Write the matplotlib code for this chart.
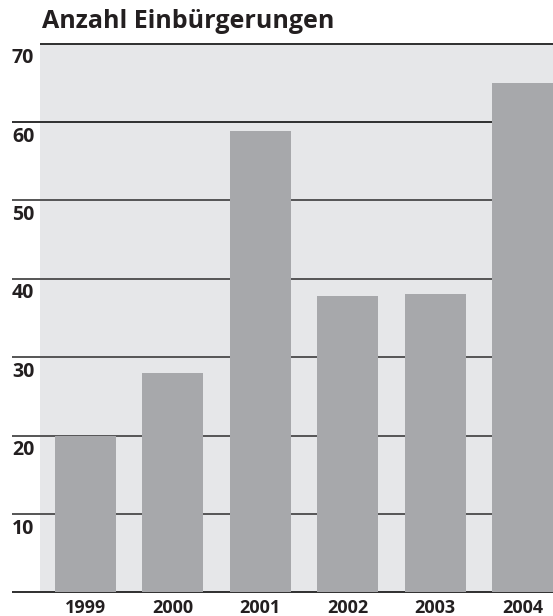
import matplotlib
matplotlib.use('Agg')
import matplotlib.pyplot as plt
import matplotlib.transforms as mtransforms

# Daten
years = ['1999', '2000', '2001', '2002', '2003', '2004']
counts = [20, 28, 58.8, 37.8, 38.0, 64.9]
yticks = [10, 20, 30, 40, 50, 60, 70]
title = 'Anzahl Einbürgerungen'

plt.rcParams['font.family'] = ['Open Sans', 'DejaVu Sans']

W, H = 553, 616
fig = plt.figure(figsize=(W / 100, H / 100), dpi=100)
ax = fig.add_axes([40 / W, (H - 592.3) / H, 513 / W, (592.3 - 43.5) / H])
ax.set_facecolor('#e6e7e9')
for s in ax.spines.values():
    s.set_visible(False)
ax.set_xticks([])
ax.set_yticks([])
ax.set_ylim(0, 70)
ax.set_xlim(-0.5206, 5.349)

x = list(range(len(years)))
ax.bar(x, counts, width=0.698, color='#a7a8ab', zorder=3)

# Gitterlinien (ragen links über die Achse hinaus)
trans = mtransforms.blended_transform_factory(ax.transAxes, ax.transData)
left = (12 - 40) / 513
for v in [0] + yticks:
    x0 = 0 if v == 70 else left
    col = '#2f2f2f' if v in (0, 60, 70) else '#555555'
    ax.plot([x0, 1], [v, v], transform=trans, color=col, lw=1.4,
            clip_on=False, zorder=2, solid_capstyle='butt')

for v in yticks:
    ax.text((12 - 40) / 513, v - 2.5, str(v), transform=trans,
            ha='left', va='baseline', fontsize=14, fontweight='bold',
            color='#231f20')

for i, lab in enumerate(years):
    ax.text(i, -2.64, lab, ha='center', va='baseline', fontsize=13,
            fontweight='bold', color='#231f20', clip_on=False)

fig.text(42 / W, 1 - 28.5 / H, title, ha='left', va='baseline',
         fontsize=18, fontweight='bold', color='#231f20')

plt.savefig('out.png', dpi=100)
